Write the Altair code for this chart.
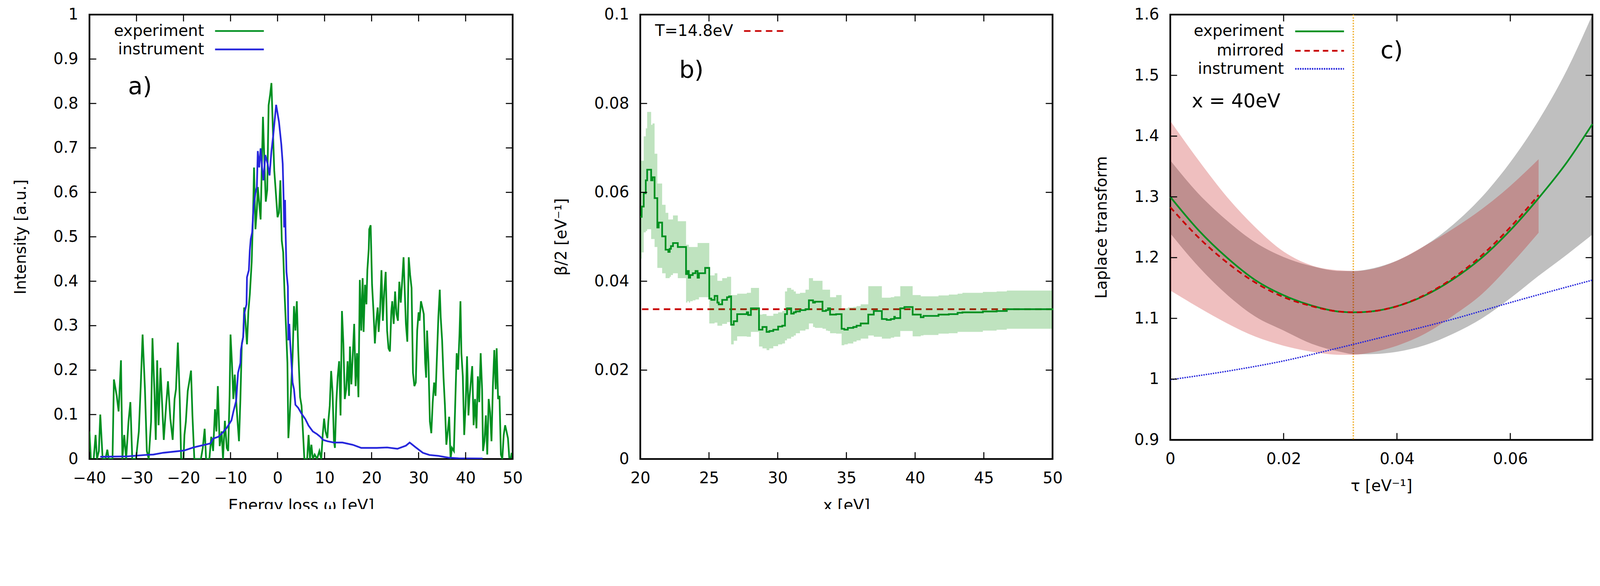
import altair as alt
import pandas as pd

FONT = "DejaVu Sans"
GREEN = "#009020"
BLUE = "#2626dc"
RED = "#c80000"
ORANGE = "#f0b030"
FS = 46
TAG_FS = 70

# ---------------- panel a data ----------------
exp_points = [(-40.0, 0.062), (-39.7, 0), (-39.1, 0), (-38.7, 0.054), (-38.4, 0), (-38.0, 0.018), (-37.7, 0.100),
    (-37.2, 0), (-36.6, 0), (-36.2, 0.021), (-35.9, 0), (-35.1, 0), (-34.8, 0.179), (-34.2, 0.142), (-33.8, 0.107),
    (-33.3, 0.222), (-33.0, 0), (-32.6, 0.054), (-32.2, 0), (-31.7, 0.084), (-31.3, 0.128), (-30.9, 0), (-30.1, 0),
    (-29.5, 0.062), (-29.1, 0.164), (-28.7, 0.280), (-28.2, 0.157), (-27.8, 0.018), (-27.4, 0), (-26.9, 0.084),
    (-26.6, 0.272), (-26.2, 0.157), (-25.9, 0.043), (-25.6, 0.222), (-25.3, 0.076), (-24.9, 0.205), (-24.5, 0.113),
    (-24.2, 0.043), (-23.7, 0.120), (-23.3, 0.175), (-22.8, 0.091), (-22.3, 0.043), (-21.9, 0.135), (-21.6, 0.157),
    (-21.2, 0.262), (-20.8, 0.135), (-20.5, 0), (-20.0, 0), (-19.8, 0.054), (-19.5, 0.084), (-19.1, 0.153),
    (-18.8, 0.172), (-18.4, 0.199), (-18.1, 0.098), (-17.7, 0), (-16.3, 0), (-15.9, 0.025), (-15.5, 0.068),
    (-15.2, 0), (-14.5, 0), (-14.1, 0.050), (-13.7, 0.018), (-13.3, 0.112), (-13.0, 0.062), (-12.7, 0.164),
    (-12.3, 0.029), (-11.9, 0.062), (-11.6, 0), (-11.2, 0.086), (-10.8, 0.025), (-10.5, 0.018), (-10.2, 0.142),
    (-10.0, 0.280), (-9.7, 0.216), (-9.4, 0.135), (-9.1, 0.190), (-8.8, 0.131), (-8.5, 0.084), (-8.2, 0.040),
    (-7.9, 0.135), (-7.6, 0.260), (-7.3, 0.275), (-7.1, 0.341), (-6.8, 0.304), (-6.5, 0.258), (-6.2, 0.333),
    (-5.9, 0.370), (-5.5, 0.443), (-5.2, 0.554), (-5.0, 0.656), (-4.7, 0.517), (-4.4, 0.561), (-4.2, 0.612),
    (-3.9, 0.576), (-3.6, 0.539), (-3.4, 0.634), (-3.1, 0.770), (-2.8, 0.671), (-2.5, 0.579), (-2.2, 0.605),
    (-1.9, 0.796), (-1.6, 0.818), (-1.3, 0.846), (-1.0, 0.744), (-0.7, 0.649), (-0.4, 0.605), (0.0, 0.544),
    (0.3, 0.554), (0.6, 0.627), (0.9, 0.491), (1.2, 0.465), (1.5, 0.370), (1.8, 0.297), (2.1, 0.216), (2.3, 0.047),
    (2.6, 0.098), (2.9, 0.164), (3.2, 0.231), (3.5, 0.344), (3.8, 0.289), (4.1, 0.355), (4.4, 0.245), (4.8, 0.139),
    (5.1, 0.120), (5.4, 0.062), (5.7, 0), (6.3, 0), (6.6, 0.054), (6.9, 0), (7.2, 0.032), (7.5, 0), (7.9, 0.010),
    (8.4, 0), (8.9, 0.018), (9.3, 0), (9.6, 0.054), (9.9, 0.091), (10.2, 0.062), (10.6, 0.047), (10.8, 0.084),
    (11.1, 0.120), (11.4, 0.198), (11.7, 0.150), (12.0, 0.040), (12.2, 0.025), (12.5, 0.128), (12.8, 0.186),
    (13.1, 0.220), (13.4, 0.098), (13.7, 0.333), (14.0, 0.260), (14.3, 0.135), (14.6, 0.157), (14.9, 0.220),
    (15.2, 0.142), (15.4, 0.253), (15.7, 0.168), (16.0, 0.234), (16.3, 0.304), (16.6, 0.164), (16.9, 0.238),
    (17.2, 0.139), (17.5, 0.403), (17.8, 0.289), (18.1, 0.407), (18.3, 0.286), (18.6, 0.392), (18.9, 0.348),
    (19.1, 0.425), (19.4, 0.473), (19.5, 0.517), (19.8, 0.526), (20.1, 0.392), (20.4, 0.333), (20.7, 0.260),
    (21.0, 0.311), (21.3, 0.341), (21.5, 0.286), (21.8, 0.333), (22.1, 0.425), (22.4, 0.311), (22.7, 0.377),
    (23.0, 0.421), (23.3, 0.289), (23.6, 0.249), (23.9, 0.242), (24.2, 0.333), (24.4, 0.355), (24.7, 0.304),
    (25.0, 0.377), (25.3, 0.326), (25.6, 0.311), (25.9, 0.399), (26.2, 0.352), (26.5, 0.399), (26.8, 0.454),
    (27.1, 0.363), (27.3, 0.304), (27.6, 0.264), (27.9, 0.454), (28.2, 0.414), (28.5, 0.385), (28.8, 0.194),
    (29.1, 0.164), (29.4, 0.172), (29.7, 0.289), (30.0, 0.330), (30.2, 0.311), (30.5, 0.355), (30.8, 0.341),
    (31.1, 0.326), (31.4, 0.216), (31.6, 0.183), (31.8, 0.289), (32.1, 0.216), (32.4, 0.084), (32.7, 0.058),
    (33.0, 0.128), (33.3, 0.172), (33.6, 0.142), (33.9, 0.231), (34.2, 0.319), (34.5, 0.381), (34.7, 0.319),
    (35.0, 0.267), (35.3, 0.183), (35.6, 0.120), (35.9, 0.032), (36.2, 0.062), (36.5, 0.095), (36.8, 0),
    (37.1, 0.025), (37.5, 0.018), (37.8, 0.128), (38.1, 0.238), (38.4, 0.201), (38.7, 0.282), (38.9, 0.355),
    (39.1, 0.238), (39.4, 0.186), (39.7, 0.054), (40.0, 0.120), (40.3, 0.231), (40.6, 0.098), (40.8, 0.135),
    (41.1, 0.172), (41.4, 0.209), (41.7, 0.076), (42.0, 0.135), (42.3, 0.069), (42.6, 0.186), (42.9, 0.128),
    (43.2, 0.238), (43.5, 0.157), (43.7, 0.018), (44.0, 0.040), (44.3, 0.098), (44.6, 0.010), (44.9, 0.135),
    (45.2, 0.106), (45.5, 0.040), (45.8, 0.164), (46.1, 0.245), (46.4, 0.157), (46.6, 0.249), (46.9, 0.135),
    (47.2, 0.142), (47.5, 0.010), (47.8, 0), (48.1, 0.054), (48.4, 0.076), (48.7, 0.062), (49.0, 0.047),
    (49.3, 0), (49.6, 0), (49.8, 0.014)]

inst_points = [(-37.7, 0.005), (-31.9, 0.006), (-28.2, 0.009), (-26.4, 0.010), (-24.3, 0.014), (-19.9, 0.019),
    (-17.9, 0.026), (-14.3, 0.035), (-13.7, 0.046), (-12.6, 0.050), (-11.7, 0.059), (-10.8, 0.070), (-9.8, 0.087),
    (-9.4, 0.106), (-8.8, 0.131), (-8.4, 0.194), (-7.9, 0.216), (-7.8, 0.245), (-7.3, 0.275), (-7.1, 0.326),
    (-6.6, 0.348), (-6.5, 0.409), (-6.1, 0.425), (-5.9, 0.469), (-5.7, 0.495), (-5.4, 0.510), (-5.1, 0.568),
    (-4.7, 0.598), (-4.4, 0.612), (-4.2, 0.693), (-3.9, 0.656), (-3.6, 0.699), (-3.3, 0.656), (-3.0, 0.627),
    (-2.6, 0.684), (-2.1, 0.664), (-1.7, 0.638), (-1.3, 0.693), (-0.9, 0.730), (-0.3, 0.797), (0.3, 0.759),
    (0.8, 0.708), (1.1, 0.664), (1.3, 0.583), (1.4, 0.521), (1.6, 0.583), (1.7, 0.517), (1.9, 0.421), (2.2, 0.388),
    (2.3, 0.267), (2.5, 0.304), (2.7, 0.260), (3.0, 0.209), (3.2, 0.172), (3.5, 0.157), (3.8, 0.122), (4.4, 0.115),
    (5.1, 0.102), (5.9, 0.090), (6.6, 0.075), (7.5, 0.062), (8.4, 0.056), (9.1, 0.050), (9.7, 0.043), (10.6, 0.040),
    (12.0, 0.037), (13.8, 0.037), (16.0, 0.032), (17.8, 0.025), (21.1, 0.025), (23.3, 0.026), (25.5, 0.023),
    (27.3, 0.030), (28.1, 0.037), (29.4, 0.026), (30.9, 0.014), (32.3, 0.009), (34.2, 0.007), (36.3, 0.003),
    (38.5, 0.0015), (43.6, 0.001)]

a_xticks = [-40, -30, -20, -10, 0, 10, 20, 30, 40, 50]
a_yticks = [0, 0.1, 0.2, 0.3, 0.4, 0.5, 0.6, 0.7, 0.8, 0.9, 1]
a_legend = ["experiment", "instrument"]

# ---------------- panel b data ----------------
b_x = [20.00, 20.10, 20.25, 20.40, 20.50, 20.79, 20.89, 21.04, 21.24, 21.34, 21.59, 21.84, 22.04, 22.14, 22.23,
       22.38, 22.73, 23.33, 23.43, 23.53, 23.63, 23.82, 24.02, 24.17, 24.27, 24.72, 25.02, 25.17, 25.41, 25.61,
       25.71, 25.96, 26.31, 26.46, 26.61, 26.80, 27.05, 27.75, 27.85, 28.05, 28.64, 28.89, 29.19, 29.39, 29.68,
       30.03, 30.33, 30.53, 30.68, 30.98, 31.17, 31.32, 31.62, 32.02, 32.27, 32.57, 32.71, 33.26, 33.51, 33.66,
       33.81, 34.25, 34.65, 34.85, 35.10, 35.50, 35.74, 36.04, 36.59, 36.99, 37.58, 37.93, 38.23, 38.48, 38.53,
       38.92, 39.22, 39.82, 40.41, 40.61, 41.70, 42.45, 43.09, 43.44, 44.93, 45.93, 46.67, 50.00]
b_mid = [0.0545, 0.0568, 0.0598, 0.0627, 0.0651, 0.0627, 0.0634, 0.0587, 0.0521, 0.0532,
         0.0501, 0.0471, 0.0466, 0.0473, 0.0479, 0.0486, 0.0477, 0.0416, 0.0423, 0.0408,
         0.0414, 0.0418, 0.0423, 0.0408, 0.0418, 0.0430, 0.0361, 0.0358, 0.0367, 0.0352,
         0.0348, 0.0358, 0.0364, 0.0366, 0.0302, 0.0310, 0.0326, 0.0330, 0.0324, 0.0339,
         0.0291, 0.0297, 0.0286, 0.0288, 0.0291, 0.0298, 0.0300, 0.0326, 0.0339, 0.0327,
         0.0330, 0.0332, 0.0335, 0.0337, 0.0357, 0.0352, 0.0354, 0.0333, 0.0335, 0.0339,
         0.0325, 0.0326, 0.0293, 0.0291, 0.0295, 0.0297, 0.0300, 0.0305, 0.0325, 0.0333,
         0.0315, 0.0313, 0.0315, 0.0320, 0.0317, 0.0339, 0.0342, 0.0325, 0.0319, 0.0322,
         0.0325, 0.0326, 0.0329, 0.0330, 0.0332, 0.0333, 0.0337, 0.0339]
b_hi = [0.0671, 0.0671, 0.0726, 0.0744, 0.0781, 0.0752, 0.0755, 0.0687, 0.0620, 0.0620,
        0.0572, 0.0554, 0.0539, 0.0539, 0.0539, 0.0548, 0.0535, 0.0482, 0.0482, 0.0477,
        0.0477, 0.0477, 0.0477, 0.0486, 0.0486, 0.0486, 0.0413, 0.0413, 0.0418, 0.0401,
        0.0401, 0.0407, 0.0410, 0.0410, 0.0369, 0.0369, 0.0372, 0.0374, 0.0374, 0.0385,
        0.0325, 0.0326, 0.0322, 0.0322, 0.0327, 0.0330, 0.0333, 0.0377, 0.0385, 0.0381,
        0.0377, 0.0372, 0.0374, 0.0381, 0.0407, 0.0401, 0.0401, 0.0381, 0.0381, 0.0381,
        0.0364, 0.0369, 0.0337, 0.0339, 0.0341, 0.0342, 0.0344, 0.0348, 0.0389, 0.0389,
        0.0363, 0.0363, 0.0364, 0.0366, 0.0366, 0.0389, 0.0389, 0.0369, 0.0366, 0.0366,
        0.0368, 0.0370, 0.0372, 0.0374, 0.0376, 0.0377, 0.0379, 0.0381]
b_lo = [0.0451, 0.0465, 0.0510, 0.0513, 0.0517, 0.0495, 0.0495, 0.0477, 0.0430, 0.0430,
        0.0418, 0.0407, 0.0407, 0.0410, 0.0414, 0.0418, 0.0407, 0.0352, 0.0355, 0.0352,
        0.0355, 0.0357, 0.0359, 0.0359, 0.0364, 0.0364, 0.0305, 0.0305, 0.0307, 0.0300,
        0.0300, 0.0304, 0.0308, 0.0308, 0.0258, 0.0266, 0.0276, 0.0275, 0.0275, 0.0286,
        0.0253, 0.0249, 0.0245, 0.0249, 0.0254, 0.0258, 0.0260, 0.0267, 0.0271, 0.0275,
        0.0278, 0.0283, 0.0289, 0.0292, 0.0305, 0.0297, 0.0295, 0.0293, 0.0289, 0.0288,
        0.0283, 0.0282, 0.0256, 0.0258, 0.0260, 0.0264, 0.0267, 0.0271, 0.0278, 0.0275,
        0.0271, 0.0271, 0.0273, 0.0275, 0.0275, 0.0288, 0.0288, 0.0276, 0.0278, 0.0279,
        0.0282, 0.0283, 0.0286, 0.0286, 0.0289, 0.0291, 0.0293, 0.0297]
b_T = [0.0337]
b_xticks = [20, 25, 30, 35, 40, 45, 50]
b_yticks = [0, 0.02, 0.04, 0.06, 0.08, 0.1]
b_legend = ["T=14.8eV"]

# ---------------- panel c data ----------------
tau_e = [0, 0.005, 0.01, 0.015, 0.02, 0.025, 0.03, 0.0325, 0.035, 0.04, 0.045, 0.05, 0.055, 0.06, 0.065, 0.07, 0.0745]
exp_c = [1.300, 1.245, 1.200, 1.163, 1.138, 1.121, 1.111, 1.110, 1.111, 1.120, 1.138, 1.165, 1.200, 1.245, 1.298, 1.357, 1.420]
gray_hi = [1.360, 1.305, 1.261, 1.225, 1.201, 1.186, 1.178, 1.178, 1.181, 1.195, 1.220, 1.255, 1.300, 1.357, 1.426, 1.509, 1.600]
gray_lo = [1.240, 1.185, 1.139, 1.103, 1.080, 1.058, 1.045, 1.041, 1.041, 1.045, 1.056, 1.075, 1.100, 1.133, 1.170, 1.205, 1.238]
tau_m = [0, 0.005, 0.01, 0.015, 0.02, 0.025, 0.03, 0.0325, 0.035, 0.04, 0.045, 0.05, 0.055, 0.06, 0.065]
mir_c = [1.283, 1.233, 1.192, 1.159, 1.135, 1.120, 1.111, 1.110, 1.111, 1.120, 1.139, 1.167, 1.204, 1.250, 1.303]
pink_hi = [1.425, 1.360, 1.300, 1.250, 1.210, 1.187, 1.179, 1.178, 1.180, 1.195, 1.220, 1.248, 1.280, 1.318, 1.362]
pink_lo = [1.146, 1.118, 1.092, 1.070, 1.055, 1.045, 1.040, 1.040, 1.043, 1.055, 1.075, 1.105, 1.140, 1.188, 1.241]
tau_i = [0, 0.01, 0.02, 0.03, 0.04, 0.05, 0.06, 0.0745]
inst_c = [0.999, 1.013, 1.030, 1.052, 1.075, 1.099, 1.126, 1.163]
tau_min = [0.0323]
c_xticks = [0, 0.02, 0.04, 0.06]
c_yticks = [0.9, 1, 1.1, 1.2, 1.3, 1.4, 1.5, 1.6]
c_legend = ["experiment", "mirrored", "instrument"]
c_note = ["x = 40eV"]
tags = ["a)", "b)", "c)"]

TICK = 20

AXIS = dict(domain=False, grid=False, ticks=False, labelFont=FONT, labelFontSize=FS, labelColor="black",
            titleFont=FONT, titleFontSize=FS, titleFontWeight="normal", titleColor="black",
            labelOverlap=False, labelFlush=False)


def ax_bottom(vals, title, fmt, tpad):
    return alt.Axis(orient="bottom", values=vals, title=title, format=fmt, labelPadding=35, titlePadding=tpad, **AXIS)


def ax_left(vals, title, fmt):
    return alt.Axis(orient="left", values=vals, title=title, format=fmt, labelPadding=33, titlePadding=71, **AXIS)


def tick_layers(xvals, yvals, X, Y, w, h):
    dx = pd.DataFrame({"v": xvals})
    dy = pd.DataFrame({"v": yvals})
    kw = dict(color="black", strokeWidth=3)
    return [
        alt.Chart(dx).mark_rule(**kw).encode(x=X("v:Q"), y=alt.value(h - TICK), y2=alt.value(h)),
        alt.Chart(dx).mark_rule(**kw).encode(x=X("v:Q"), y=alt.value(0), y2=alt.value(TICK)),
        alt.Chart(dy).mark_rule(**kw).encode(y=Y("v:Q"), x=alt.value(0), x2=alt.value(TICK)),
        alt.Chart(dy).mark_rule(**kw).encode(y=Y("v:Q"), x=alt.value(w - TICK), x2=alt.value(w)),
    ]


def legend_entry(label, ypix, xr, x1, x2, color, dash=None):
    df = pd.DataFrame({"label": [label]})
    t = alt.Chart(df).mark_text(align="right", baseline="middle", font=FONT, fontSize=FS, color="black").encode(
        text="label:N", x=alt.value(xr), y=alt.value(ypix))
    kw = dict(color=color, strokeWidth=5)
    if dash is not None:
        kw["strokeDash"] = dash
    r = alt.Chart(df).mark_rule(**kw).encode(x=alt.value(x1), x2=alt.value(x2), y=alt.value(ypix))
    return [t, r]


def text_at(label, xp, yp, size):
    df = pd.DataFrame({"label": [label]})
    return alt.Chart(df).mark_text(align="left", baseline="middle", font=FONT, fontSize=size, color="black").encode(
        text="label:N", x=alt.value(xp), y=alt.value(yp))


def enc_factory(scale, axis, cls):
    def make(field):
        return cls(field, scale=scale, axis=axis)
    return make


# ---------------- panel a ----------------
AW, AH = 1240, 1302
XA = enc_factory(alt.Scale(domain=[-40, 50], nice=False, zero=False),
                 ax_bottom(a_xticks, "Energy loss ω [eV]", "d", 35), alt.X)
YA = enc_factory(alt.Scale(domain=[0, 1], nice=False, zero=False),
                 ax_left(a_yticks, "Intensity [a.u.]", ".1~f"), alt.Y)
df_exp = pd.DataFrame(exp_points, columns=["x", "y"])
df_inst = pd.DataFrame(inst_points, columns=["x", "y"])

a_green = alt.Chart(df_exp).mark_line(color=GREEN, strokeWidth=5, clip=True).encode(x=XA("x:Q"), y=YA("y:Q"))
a_blue = alt.Chart(df_inst).mark_line(color=BLUE, strokeWidth=5, clip=True).encode(x=XA("x:Q"), y=YA("y:Q"))
a_layers = [a_green, a_blue] + tick_layers(a_xticks, a_yticks, XA, YA, AW, AH)
a_layers += legend_entry(a_legend[0], 48, 336, 368, 511, GREEN)
a_layers += legend_entry(a_legend[1], 102, 336, 368, 511, BLUE)
a_layers.append(text_at(tags[0], 113, 212, TAG_FS))
panel_a = alt.layer(*a_layers).properties(width=AW, height=AH)

# ---------------- panel b ----------------
BW, BH = 1208, 1302
XB = enc_factory(alt.Scale(domain=[20, 50], nice=False, zero=False),
                 ax_bottom(b_xticks, "x [eV]", "d", 35), alt.X)
YB = enc_factory(alt.Scale(domain=[0, 0.1], nice=False, zero=False),
                 ax_left(b_yticks, "β/2 [eV⁻¹]", ".2~f"), alt.Y)
df_b = pd.DataFrame({"x": b_x, "m": b_mid, "hi": b_hi, "lo": b_lo})
b_red = alt.Chart(pd.DataFrame({"T": b_T})).mark_rule(color=RED, strokeWidth=5, strokeDash=[19, 13]).encode(
    y=YB("T:Q"))
b_band = alt.Chart(df_b).mark_area(color="#009000", opacity=0.25, interpolate="step-after").encode(
    x=XB("x:Q"), y=YB("hi:Q"), y2="lo:Q")
b_line = alt.Chart(df_b).mark_line(color=GREEN, strokeWidth=5, interpolate="step-after").encode(
    x=XB("x:Q"), y=YB("m:Q"))
b_layers = [b_red, b_band, b_line] + tick_layers(b_xticks, b_yticks, XB, YB, BW, BH)
b_layers += legend_entry(b_legend[0], 48, 272, 304, 432, RED, [19, 13])
b_layers.append(text_at(tags[1], 114, 164, TAG_FS))
panel_b = alt.layer(*b_layers).properties(width=BW, height=BH)

# ---------------- panel c ----------------
CW, CH = 1237, 1246
XC = enc_factory(alt.Scale(domain=[0, 0.0745], nice=False, zero=False),
                 ax_bottom(c_xticks, "τ [eV⁻¹]", ".2~f", 33), alt.X)
YC = enc_factory(alt.Scale(domain=[0.9, 1.6], nice=False, zero=False),
                 ax_left(c_yticks, "Laplace transform", ".1~f"), alt.Y)
df_ce = pd.DataFrame({"t": tau_e, "e": exp_c, "hi": gray_hi, "lo": gray_lo})
df_cm = pd.DataFrame({"t": tau_m, "m": mir_c, "hi": pink_hi, "lo": pink_lo})
df_ci = pd.DataFrame({"t": tau_i, "v": inst_c})
c_orange = alt.Chart(pd.DataFrame({"t": tau_min})).mark_rule(color=ORANGE, strokeWidth=4, strokeDash=[4, 4]).encode(
    x=XC("t:Q"))
c_gray = alt.Chart(df_ce).mark_area(color="black", opacity=0.25, interpolate="monotone").encode(
    x=XC("t:Q"), y=YC("hi:Q"), y2="lo:Q")
c_pink = alt.Chart(df_cm).mark_area(color="#c00000", opacity=0.25, interpolate="monotone").encode(
    x=XC("t:Q"), y=YC("hi:Q"), y2="lo:Q")
c_blue = alt.Chart(df_ci).mark_line(color=BLUE, strokeWidth=4, strokeDash=[4, 3], interpolate="monotone").encode(
    x=XC("t:Q"), y=YC("v:Q"))
c_green = alt.Chart(df_ce).mark_line(color=GREEN, strokeWidth=5, interpolate="monotone").encode(
    x=XC("t:Q"), y=YC("e:Q"))
c_red = alt.Chart(df_cm).mark_line(color=RED, strokeWidth=5, strokeDash=[16, 11], interpolate="monotone").encode(
    x=XC("t:Q"), y=YC("m:Q"))
c_layers = [c_orange, c_gray, c_pink, c_blue, c_green, c_red] + tick_layers(c_xticks, c_yticks, XC, YC, CW, CH)
c_layers += legend_entry(c_legend[0], 49, 333, 366, 509, GREEN)
c_layers += legend_entry(c_legend[1], 106, 333, 366, 509, RED, [16, 11])
c_layers += legend_entry(c_legend[2], 159, 333, 366, 509, BLUE, [4, 3])
c_layers.append(text_at(tags[2], 616, 107, TAG_FS))
c_layers.append(text_at(c_note[0], 63, 255, 56))
panel_c = alt.layer(*c_layers).properties(width=CW, height=CH)

chart = alt.hconcat(panel_a, panel_b, panel_c, spacing=86).properties(
    padding={"left": 26, "top": -86, "right": 0, "bottom": -110}, background="white"
).configure(font=FONT).configure_view(stroke="black", strokeWidth=5)

chart.save("out.html", embed_options={"renderer": "svg", "actions": False})
